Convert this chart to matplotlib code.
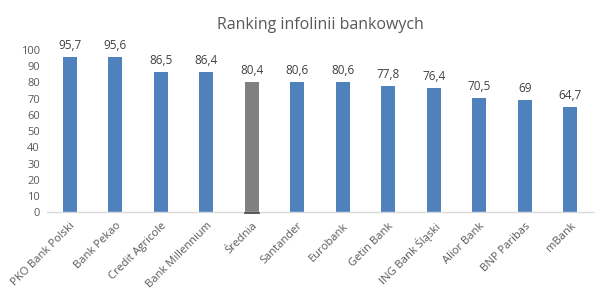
import matplotlib
matplotlib.use("Agg")
import matplotlib.pyplot as plt

categories = ["PKO Bank Polski", "Bank Pekao", "Credit Agricole", "Bank Millennium", "Średnia",
              "Santander", "Eurobank", "Getin Bank", "ING Bank Śląski", "Alior Bank", "BNP Paribas", "mBank"]
values = [95.7, 95.6, 86.5, 86.4, 80.4, 80.6, 80.6, 77.8, 76.4, 70.5, 69, 64.7]
labels = ["95,7", "95,6", "86,5", "86,4", "80,4", "80,6", "80,6", "77,8", "76,4", "70,5", "69", "64,7"]
yticks = [0, 10, 20, 30, 40, 50, 60, 70, 80, 90, 100]

plt.rcParams['font.family'] = ['Open Sans', 'DejaVu Sans']
fig = plt.figure(figsize=(6.09, 3.0), dpi=100)
ax = fig.add_axes([0.077, 0.293, 0.897, 0.54])

colors = ['#808080' if c == "Średnia" else '#4F81BD' for c in categories]
x = list(range(len(categories)))
bars = ax.bar(x, values, width=0.31, color=colors, zorder=2)
for b, c in zip(bars, categories):
    if c == "Średnia":
        ax.plot([b.get_x(), b.get_x() + b.get_width()], [-0.8, -0.8], color='#404040', lw=1.2,
                clip_on=False, zorder=3)
for xi, v, lab in zip(x, values, labels):
    ax.text(xi, v + 3, lab, ha='center', va='bottom', fontsize=8.5, color='#404040')

ax.set_xlim(-0.5, len(categories) - 0.5)
ax.set_ylim(0, 100)
ax.set_yticks(yticks)
ax.set_yticklabels([str(t) for t in yticks], fontsize=8, color='#595959')
ax.set_xticks(x)
ax.set_xticklabels(categories, rotation=45, ha='right', rotation_mode='anchor', fontsize=8, color='#595959')
ax.tick_params(axis='x', length=0, pad=6)
ax.tick_params(axis='y', length=0, pad=5)
for s in ['top', 'right', 'left']:
    ax.spines[s].set_visible(False)
ax.spines['bottom'].set_color('#D9D9D9')
ax.spines['bottom'].set_linewidth(1)
ax.set_title("Ranking infolinii bankowych", fontsize=11.5, color='#595959', pad=15)

fig.savefig("out.png", dpi=100)
